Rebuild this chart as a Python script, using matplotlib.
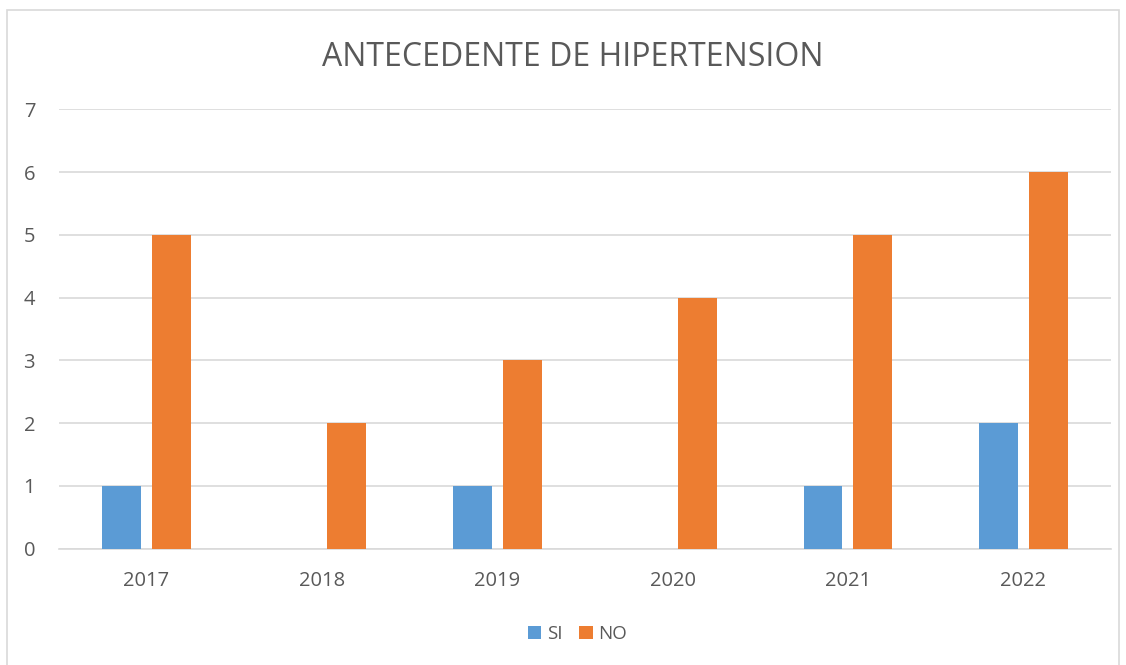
import matplotlib.pyplot as plt
import numpy as np
from matplotlib.patches import Rectangle

years = ["2017", "2018", "2019", "2020", "2021", "2022"]
si_values = [1, 0, 1, 0, 1, 2]
no_values = [5, 2, 3, 4, 5, 6]
y_ticks = [0, 1, 2, 3, 4, 5, 6, 7]

BLUE = "#5B9BD5"
ORANGE = "#ED7D31"
TEXT = "#595959"
GRID = "#D9D9D9"

plt.rcParams["font.family"] = ["Open Sans", "DejaVu Sans"]

fig = plt.figure(figsize=(11.26, 6.65), dpi=100)
fig.patches.append(
    Rectangle((7 / 1126, -0.01), 1112 / 1126, (665 - 10) / 665 + 0.01,
              transform=fig.transFigure, fill=False, edgecolor="#D9D9D9",
              linewidth=1.2)
)

ax = fig.add_axes([0.0522, 0.1749, 0.9345, 0.6605])
x = np.arange(len(years))
width = 0.222
offset = 0.1425
ax.bar(x - offset, si_values, width, color=BLUE, label="SI", zorder=3)
ax.bar(x + offset, no_values, width, color=ORANGE, label="NO", zorder=3)

ax.set_xlim(-0.5, len(years) - 0.5)
ax.set_ylim(0, 7)
ax.set_yticks(y_ticks)
ax.set_xticks(x)
ax.set_xticklabels(years)
ax.tick_params(axis="both", length=0, colors=TEXT, labelsize=14.5)
ax.tick_params(axis="x", pad=16)
ax.tick_params(axis="y", pad=17)
ax.grid(axis="y", color=GRID, linewidth=1.2, zorder=0)
for side in ("top", "right", "left"):
    ax.spines[side].set_visible(False)
ax.spines["bottom"].set_color(GRID)
ax.spines["bottom"].set_linewidth(1.2)

fig.text(0.5085, 1 - 57 / 665, "ANTECEDENTE DE HIPERTENSION", ha="center",
         va="center", fontsize=23, color=TEXT)

fig.legend(loc="center", bbox_to_anchor=(0.513, 1 - 634 / 665), ncol=2,
           frameon=False, fontsize=13.5, labelcolor=TEXT, handlelength=0.7,
           handleheight=0.7, handletextpad=0.3, columnspacing=0.9)

fig.savefig("out.png", dpi=100)
